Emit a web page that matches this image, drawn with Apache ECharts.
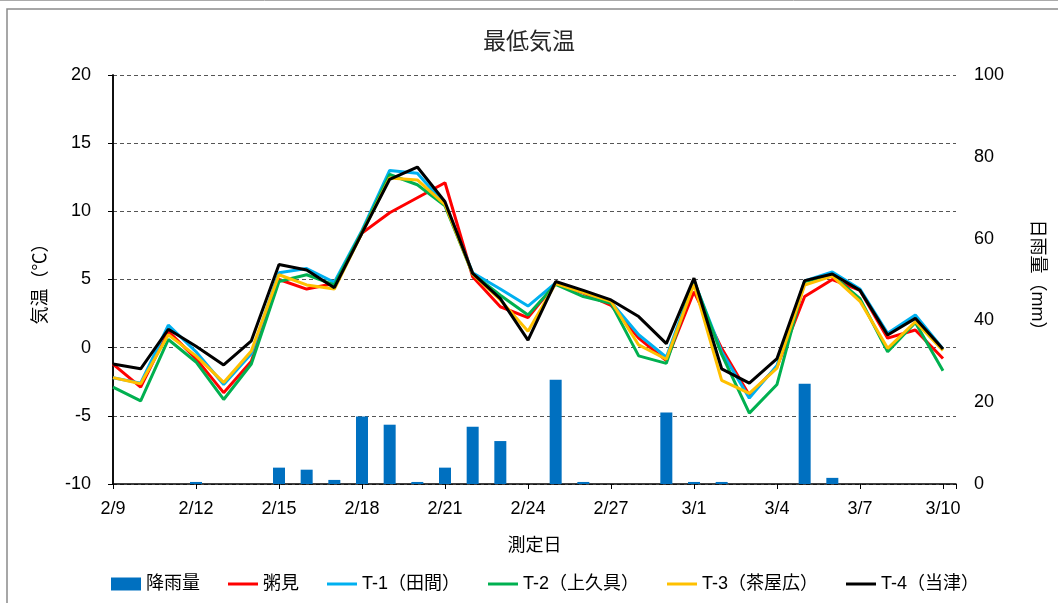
<!DOCTYPE html>
<html>
<head>
<meta charset="utf-8">
<script src="https://cdn.jsdelivr.net/npm/echarts@6/dist/echarts.min.js"></script>
<style>
  html, body { margin: 0; padding: 0; background: #fff; }
  #main { width: 1058px; height: 603px; }
</style>
</head>
<body>
<div id="main"></div>
<script>
// dates 2/9 .. 3/10 (2024, leap year)
const dates = ['2/9','2/10','2/11','2/12','2/13','2/14','2/15','2/16','2/17','2/18','2/19','2/20','2/21','2/22','2/23','2/24','2/25','2/26','2/27','2/28','2/29','3/1','3/2','3/3','3/4','3/5','3/6','3/7','3/8','3/9','3/10'];

// daily rainfall (mm)
const rain = [0, 0, 0, 0.5, 0, 0, 4, 3.5, 1, 16.5, 14.5, 0.5, 4, 14, 10.5, 0, 25.5, 0.5, 0, 0, 17.5, 0.5, 0.5, 0, 0, 24.5, 1.5, 0, 0, 0, 0];

// minimum temperature (°C)
const kayumi = [-1.2, -2.9, 1.2, -0.8, -3.3, -1.0, 5.0, 4.3, 4.7, 8.4, 9.9, 11.0, 12.1, 5.2, 3.0, 2.2, 4.7, 4.0, 3.1, 0.7, -0.95, 4.1, -0.05, -3.5, -1.4, 3.75, 5.0, 4.2, 0.7, 1.3, -0.8];
const t1 = [-2.2, -2.6, 1.65, -0.3, -2.7, -0.45, 5.5, 5.8, 4.8, 8.6, 13.0, 12.8, 10.5, 5.5, 4.3, 3.05, 4.75, 4.05, 3.35, 0.95, -0.7, 4.9, -0.3, -3.7, -1.3, 4.9, 5.55, 4.3, 1.05, 2.4, -0.1];
const t2 = [-2.9, -3.9, 0.6, -1.05, -3.8, -1.2, 4.85, 5.35, 4.6, 8.5, 12.7, 11.95, 10.4, 5.4, 3.85, 2.4, 4.65, 3.75, 3.25, -0.6, -1.15, 4.9, -0.5, -4.8, -2.7, 4.85, 5.3, 3.6, -0.3, 1.85, -1.7];
const t3 = [-2.2, -2.65, 0.95, -0.6, -2.55, -0.25, 5.35, 4.6, 4.3, 8.4, 12.45, 12.3, 10.5, 5.4, 3.5, 1.2, 4.7, 4.05, 3.4, 0.2, -0.85, 4.65, -2.4, -3.35, -1.5, 4.6, 5.25, 3.4, -0.05, 1.9, -0.2];
const t4 = [-1.2, -1.55, 1.35, 0.1, -1.27, 0.5, 6.1, 5.7, 4.4, 8.4, 12.35, 13.25, 10.7, 5.45, 3.6, 0.55, 4.85, 4.2, 3.5, 2.28, 0.3, 5.1, -1.55, -2.6, -0.8, 4.92, 5.4, 4.2, 0.93, 2.15, -0.1];

const tempSeries = [
  { name: '粥見', data: kayumi, color: '#FF0000' },
  { name: 'T-1（田間）', data: t1, color: '#00B0F0' },
  { name: 'T-2（上久具）', data: t2, color: '#00B050' },
  { name: 'T-3（茶屋広）', data: t3, color: '#FFC000' },
  { name: 'T-4（当津）', data: t4, color: '#000000' }
];

const font = "'Liberation Sans', 'Noto Sans CJK JP', sans-serif";
const pairs = arr => arr.map((v, i) => [i, v]);
const lineIcon = 'path://M0 0H30V3H0Z';

const chart = echarts.init(document.getElementById('main'));

const option = {
  animation: false,
  textStyle: { fontFamily: font, color: '#000' },
  title: {
    text: '最低気温',
    left: 'center',
    top: 26,
    textStyle: { fontFamily: font, fontSize: 23, fontWeight: 'normal', color: '#262626' }
  },
  legend: {
    bottom: 5,
    left: 106,
    itemGap: 28,
    itemWidth: 30,
    itemHeight: 13,
    textStyle: { fontFamily: font, fontSize: 18, color: '#000' },
    data: [{ name: '降雨量', icon: 'rect' }].concat(tempSeries.map(s => ({ name: s.name, icon: lineIcon })))
  },
  grid: { left: 113, right: 102, top: 75, bottom: 119 },
  xAxis: {
    type: 'value',
    min: 0,
    max: 30.47,
    interval: 3,
    name: '測定日',
    nameLocation: 'middle',
    nameGap: 53,
    nameTextStyle: { fontFamily: font, fontSize: 18, color: '#000' },
    axisLine: { show: true, onZero: false, lineStyle: { color: '#000', width: 1.5 } },
    axisTick: { show: true, length: 5, lineStyle: { color: '#000' } },
    axisLabel: {
      fontSize: 18, color: '#000', margin: 16,
      formatter: v => Number.isInteger(v) ? (dates[v] || '') : ''
    },
    splitLine: { show: false }
  },
  yAxis: [
    {
      type: 'value',
      min: -10,
      max: 20,
      interval: 5,
      name: '気温（℃）',
      nameLocation: 'middle',
      nameRotate: 90,
      nameGap: 63,
      nameTextStyle: { fontFamily: font, fontSize: 18, color: '#000' },
      axisLine: { show: true, onZero: false, lineStyle: { color: '#000', width: 1.5 } },
      axisTick: { show: true, length: 5, lineStyle: { color: '#000' } },
      axisLabel: { fontSize: 18, color: '#000', margin: 22 },
      splitLine: { show: true, lineStyle: { color: '#555', type: [4, 3], width: 1.2 } }
    },
    {
      type: 'value',
      min: 0,
      max: 100,
      interval: 20,
      name: '日雨量（mm）',
      nameLocation: 'middle',
      nameRotate: -90,
      nameGap: 72,
      nameTextStyle: { fontFamily: font, fontSize: 18, color: '#000' },
      axisLine: { show: true, lineStyle: { color: '#000', width: 1.5 } },
      axisTick: { show: false },
      axisLabel: { fontSize: 18, color: '#000', margin: 18 },
      splitLine: { show: false }
    }
  ],
  graphic: [
    { type: 'rect', silent: true, shape: { x: 7, y: 9, width: 1060, height: 600 },
      style: { fill: 'none', stroke: '#8a8a8a', lineWidth: 1.5 } },
    { type: 'line', silent: true, shape: { x1: 0, y1: 0.5, x2: 1058, y2: 0.5 },
      style: { stroke: '#aaa', lineWidth: 1 } }
  ],
  series: [
    {
      name: '降雨量',
      type: 'bar',
      yAxisIndex: 1,
      barWidth: 12,
      itemStyle: { color: '#0070C0' },
      data: pairs(rain)
    }
  ].concat(tempSeries.map(s => ({
    name: s.name,
    type: 'line',
    yAxisIndex: 0,
    symbol: 'none',
    color: s.color,
    lineStyle: { color: s.color, width: 3 },
    data: pairs(s.data)
  })))
};

chart.setOption(option);
window.addEventListener('resize', () => chart.resize());
</script>
</body>
</html>
